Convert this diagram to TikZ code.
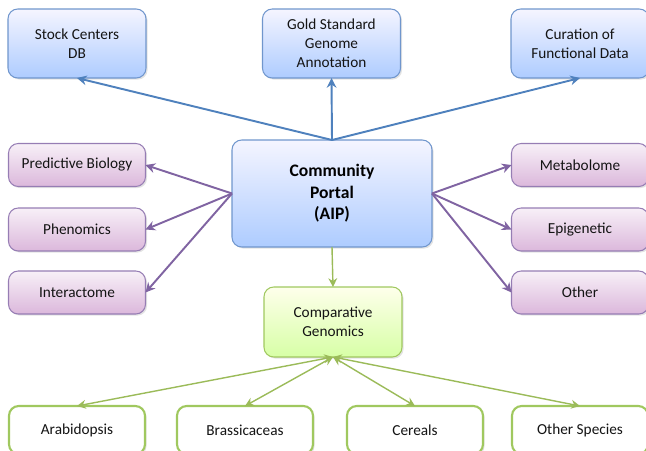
\documentclass[tikz,border=0pt]{standalone}
\usepackage{fontspec}
\setmainfont{Carlito}
\usetikzlibrary{arrows.meta,shadows}
\definecolor{lineblue}{RGB}{79,129,189}
\definecolor{linepurple}{RGB}{128,100,162}
\definecolor{linegreen}{RGB}{155,187,89}
\definecolor{edgeblue}{RGB}{112,150,205}
\definecolor{edgepurple}{RGB}{150,125,180}
\definecolor{edgegreen}{RGB}{160,200,95}

\begin{document}
\begin{tikzpicture}[x=0.02cm, y=-0.02cm,
    box/.style={rounded corners=5.5pt, align=center, inner sep=0pt, outer sep=0pt,
        font=\fontsize{8.7}{10.8}\selectfont, text=black!92,
        drop shadow={opacity=0.22, shadow xshift=0.9pt, shadow yshift=-0.9pt}},
    bluebox/.style={box, draw=edgeblue, line width=0.6pt,
        top color=blue!4!white, bottom color=blue!30!cyan!20!white!85!blue,
        minimum width=2.76cm, minimum height=1.38cm},
    purplebox/.style={box, draw=edgepurple, line width=0.6pt,
        top color=violet!6!white, bottom color=violet!28!white,
        minimum width=2.74cm, minimum height=0.86cm},
    greenbox/.style={box, draw=edgegreen, line width=0.6pt,
        top color=green!5!yellow!8!white, bottom color=green!45!yellow!35!white,
        minimum width=2.76cm, minimum height=1.4cm},
    leafbox/.style={box, draw=edgegreen, line width=1.2pt, fill=white,
        minimum width=2.72cm, minimum height=0.96cm},
    bluearrow/.style={draw=lineblue, line width=1.1pt, -{Stealth[length=5.5pt,width=5.5pt]}},
    purplearrow/.style={draw=linepurple, line width=1.1pt, -{Stealth[length=5.5pt,width=5.5pt]}},
    greenarrow/.style={draw=linegreen, line width=0.8pt, -{Stealth[length=5pt,width=5pt]}},
    leafarrow/.style={draw=linegreen, line width=0.8pt, {Stealth[length=5pt,width=5pt]}-{Stealth[length=5pt,width=5pt]}}]

    \useasboundingbox (0,0) rectangle (646,450);

    % top row
    \node[bluebox] (stock) at (77,43.5) {Stock Centers\\DB};
    \node[bluebox] (gold) at (331.5,43.5) {Gold Standard\\Genome\\Annotation};
    \node[bluebox] (curation) at (580,43.5) {Curation of\\Functional Data};

    % hub
    \node[bluebox, minimum width=4cm, minimum height=2.14cm,
        font=\fontsize{10}{12.3}\selectfont\bfseries, text=black] (portal) at (332,193.5) {Community\\Portal\\(AIP)};

    % left and right
    \node[purplebox] (predictive) at (77,165) {Predictive Biology};
    \node[purplebox] (phenomics) at (77,229.5) {Phenomics};
    \node[purplebox] (interactome) at (77,292.5) {Interactome};
    \node[purplebox] (metabolome) at (580,165) {Metabolome};
    \node[purplebox] (epigenetic) at (580,229.5) {Epigenetic};
    \node[purplebox] (other) at (580,292.5) {Other};

    % comparative genomics and species
    \node[greenbox] (comparative) at (333,322) {Comparative\\Genomics};
    \node[leafbox] (arabidopsis) at (77,430) {Arabidopsis};
    \node[leafbox] (brassicaceas) at (245,430) {Brassicaceas};
    \node[leafbox] (cereals) at (415,430) {Cereals};
    \node[leafbox] (otherspecies) at (580,430) {Other Species};

    \draw[bluearrow] (portal.north) -- (stock.south);
    \draw[bluearrow] (portal.north) -- (gold.south);
    \draw[bluearrow] (portal.north) -- (curation.south);

    \draw[purplearrow] (portal.west) -- (predictive.east);
    \draw[purplearrow] (portal.west) -- (phenomics.east);
    \draw[purplearrow] (portal.west) -- (interactome.east);
    \draw[purplearrow] (portal.east) -- (metabolome.west);
    \draw[purplearrow] (portal.east) -- (epigenetic.west);
    \draw[purplearrow] (portal.east) -- (other.west);

    \draw[greenarrow] (portal.south) -- (comparative.north);
    \draw[leafarrow] (comparative.south) -- (arabidopsis.north);
    \draw[leafarrow] (comparative.south) -- (brassicaceas.north);
    \draw[leafarrow] (comparative.south) -- (cereals.north);
    \draw[leafarrow] (comparative.south) -- (otherspecies.north);
\end{tikzpicture}
\end{document}
